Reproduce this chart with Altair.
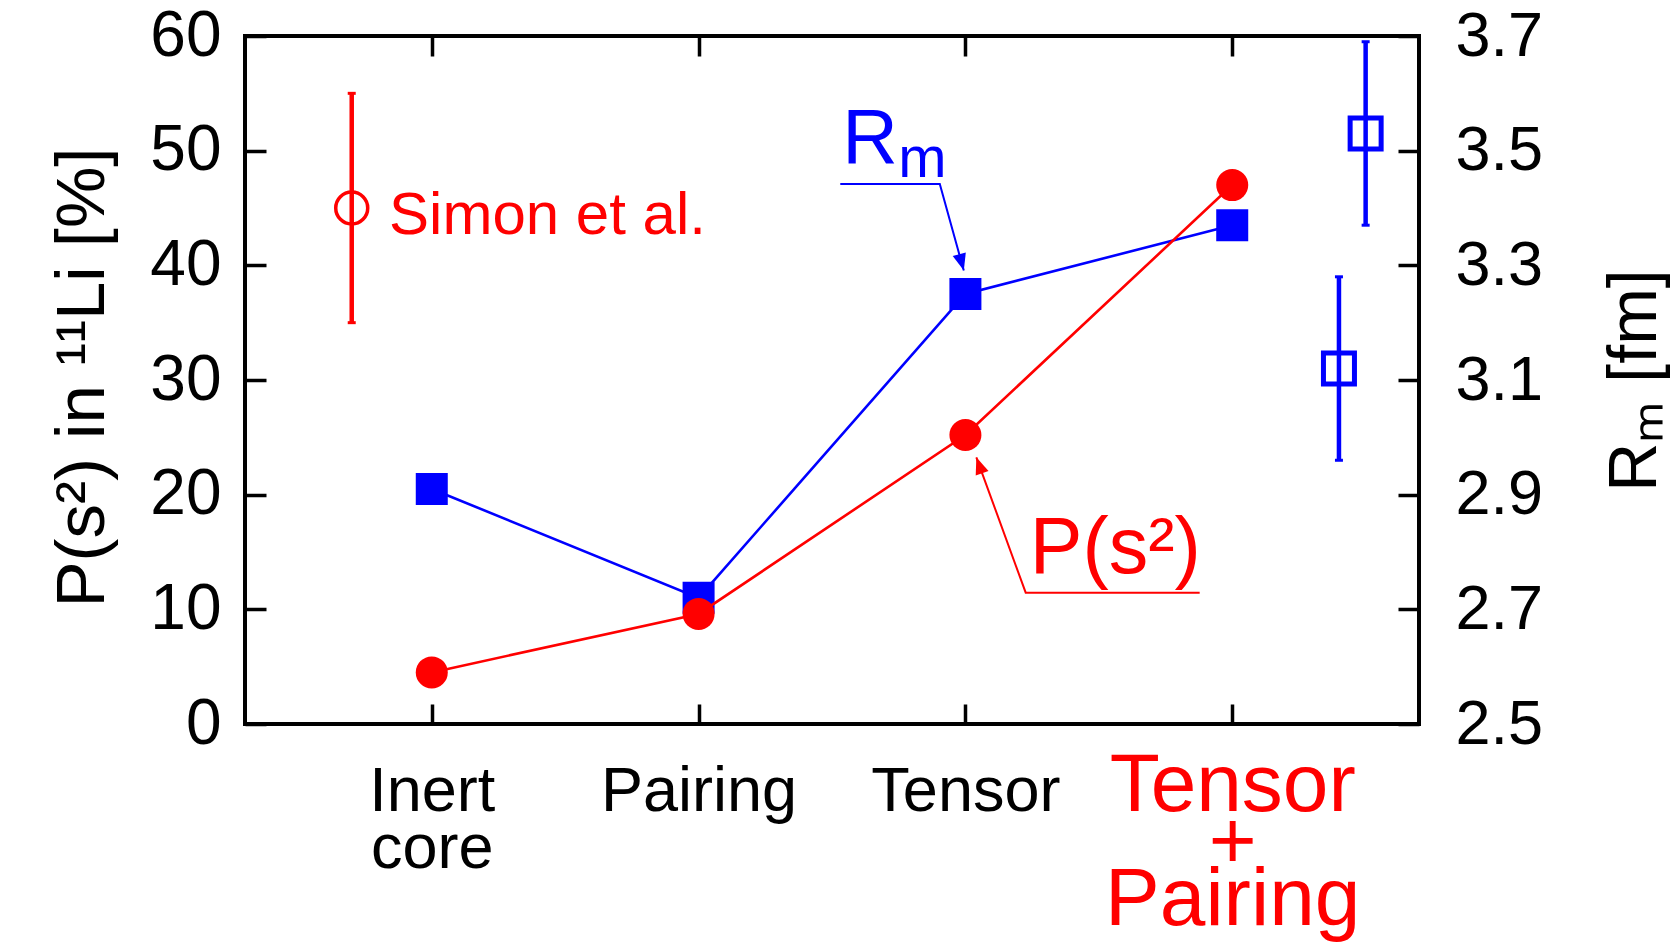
import json
import altair as alt
import pandas as pd

# ---- data -------------------------------------------------------------
categories = [["Inert", "core"], "Pairing", "Tensor", ["Tensor", "+", "Pairing"]]
cat_pos = [1, 2, 3, 4]

p_s2 = [4.5, 9.6, 25.2, 47.0]          # P(s^2) in 11Li [%]
r_m = [2.91, 2.72, 3.25, 3.37]          # matter radius [fm]

# experiment: Simon et al. P(s^2)
simon_x = [0.7]
simon_val = [45.0]
simon_lo = [35.0]
simon_hi = [55.0]

# experiments: matter radius
rm_exp_x = [4.4, 4.5]
rm_exp = [3.12, 3.53]
rm_exp_lo = [2.96, 3.37]
rm_exp_hi = [3.28, 3.69]

# annotation leader lines (x in category units, y in percent)
rm_leader_x = [2.531, 2.904, 2.994]
rm_leader_y = [47.10, 47.10, 39.54]
p_leader_x = [3.878, 3.226, 3.041]
p_leader_y = [11.45, 11.45, 23.26]

# ---- styling ----------------------------------------------------------
RED = "#ff0000"
BLUE = "#0000ff"
FONT = "Liberation Sans"
W, H = 1174, 688
ARROW = "M0,0L-0.8,2L0.8,2Z"

x_scale = alt.Scale(domain=[0.3, 4.7], nice=False, zero=False)
yl_scale = alt.Scale(domain=[0, 60], nice=False, zero=False)
yr_scale = alt.Scale(domain=[2.5, 3.7], nice=False, zero=False)

x_axis = alt.Axis(
    values=cat_pos,
    labelExpr=f"{json.dumps(categories)}[datum.value - 1]",
    labelFont=FONT,
    labelFontSize={"condition": {"test": "datum.value == 4", "value": 82}, "value": 63},
    labelColor={"condition": {"test": "datum.value == 4", "value": RED}, "value": "black"},
    labelLineHeight=57,
    labelBaseline="alphabetic",
    labelPadding=86,
    labelAngle=0,
    labelLimit=0,
    labelOverlap=False,
    labelFlush=False,
    ticks=False,
    tickSize=0,
    domain=False,
    grid=True,
    gridColor="black",
    gridWidth=3.5,
    gridDash=[20, H - 40],
    title=None,
)

yl_axis = alt.Axis(
    orient="left",
    values=[0, 10, 20, 30, 40, 50, 60],
    labelFont=FONT,
    labelFontSize=64,
    labelPadding=24,
    labelColor="black",
    ticks=False,
    tickSize=0,
    domain=False,
    grid=True,
    gridColor="black",
    gridWidth=3.5,
    gridDash=[21, W - 42],
    title="P(s²) in ¹¹Li [%]",
    titleFont=FONT,
    titleFontSize=69,
    titleFontWeight="normal",
    titleColor="black",
    titleAngle=270,
    titleAlign="center",
    titleBaseline="alphabetic",
    titleX=-142,
    titleY=H / 2 - 3,
)

yr_axis = alt.Axis(
    orient="right",
    values=[2.5, 2.7, 2.9, 3.1, 3.3, 3.5, 3.7],
    format=".1f",
    labelFont=FONT,
    labelFontSize=63,
    labelPadding=36,
    labelColor="black",
    ticks=False,
    tickSize=0,
    domain=False,
    grid=False,
    title="Rₘ [fm]",
    titleFont=FONT,
    titleFontSize=68,
    titleFontWeight="normal",
    titleColor="black",
    titleAngle=270,
    titleAlign="center",
    titleBaseline="alphabetic",
    titleX=236,
    titleY=H / 2,
)


def X(field="x"):
    return alt.X(f"{field}:Q", scale=x_scale, axis=x_axis)


def YL(field):
    return alt.Y(f"{field}:Q", scale=yl_scale, axis=yl_axis)


def YR(field):
    return alt.Y(f"{field}:Q", scale=yr_scale, axis=yr_axis)


# ---- tables -----------------------------------------------------------
theory = pd.DataFrame({"x": cat_pos, "p": p_s2, "rm": r_m})
simon = pd.DataFrame({"x": simon_x, "v": simon_val, "lo": simon_lo, "hi": simon_hi})
simon_caps = pd.DataFrame({"x": simon_x * 2, "v": simon_lo + simon_hi})
rm_obs = pd.DataFrame({"x": rm_exp_x, "v": rm_exp, "lo": rm_exp_lo, "hi": rm_exp_hi})
rm_caps = pd.DataFrame({"x": rm_exp_x * 2, "v": rm_exp_lo + rm_exp_hi})
rm_leader = pd.DataFrame({"x": rm_leader_x, "y": rm_leader_y, "i": range(3)})
p_leader = pd.DataFrame({"x": p_leader_x, "y": p_leader_y, "i": range(3)})
rm_tip = rm_leader.tail(1)
p_tip = p_leader.tail(1)

# ---- right-hand scale: matter radius ----------------------------------
rm_line = alt.Chart(theory).mark_line(color=BLUE, strokeWidth=2.6).encode(x=X(), y=YR("rm"))
rm_pts = alt.Chart(theory).mark_point(
    shape="square", filled=True, size=1024, color=BLUE, opacity=1
).encode(x=X(), y=YR("rm"))
rm_bars = alt.Chart(rm_obs).mark_rule(color=BLUE, strokeWidth=4.5).encode(
    x=X(), y=YR("lo"), y2="hi:Q"
)
rm_bar_caps = alt.Chart(rm_caps).mark_tick(
    orient="horizontal", color=BLUE, size=8, thickness=3, opacity=1
).encode(x=X(), y=YR("v"))
rm_open = alt.Chart(rm_obs).mark_point(
    shape="square", filled=False, size=961, color=BLUE, strokeWidth=5, opacity=1
).encode(x=X(), y=YR("v"))

right = alt.layer(rm_line, rm_pts, rm_bars, rm_bar_caps, rm_open)

# ---- left-hand scale: P(s^2) and annotations ---------------------------
p_line = alt.Chart(theory).mark_line(color=RED, strokeWidth=2.6).encode(x=X(), y=YL("p"))
p_pts = alt.Chart(theory).mark_point(
    shape="circle", filled=True, size=1024, color=RED, opacity=1
).encode(x=X(), y=YL("p"))

simon_bar = alt.Chart(simon).mark_rule(color=RED, strokeWidth=4.5).encode(
    x=X(), y=YL("lo"), y2="hi:Q"
)
simon_bar_caps = alt.Chart(simon_caps).mark_tick(
    orient="horizontal", color=RED, size=8, thickness=3, opacity=1
).encode(x=X(), y=YL("v"))
simon_pt = alt.Chart(simon).mark_point(
    shape="circle", filled=False, size=1024, color=RED, strokeWidth=3.5, opacity=1
).encode(x=X(), y=YL("v"))
simon_label = alt.Chart(pd.DataFrame({"x": [0.84], "y": [44.3], "t": ["Simon et al."]})).mark_text(
    align="left", baseline="middle", font=FONT, fontSize=60, color=RED
).encode(x=X(), y=YL("y"), text="t:N")

rm_lead = alt.Chart(rm_leader).mark_line(color=BLUE, strokeWidth=2).encode(
    x=X(), y=YL("y"), order="i:Q"
)
rm_head = alt.Chart(rm_tip).mark_point(
    shape=ARROW, filled=True, size=289, color=BLUE, angle=164.5, opacity=1
).encode(x=X(), y=YL("y"))
rm_text_r = alt.Chart(pd.DataFrame({"x": [2.538], "y": [48.92], "t": ["R"]})).mark_text(
    align="left", baseline="alphabetic", font=FONT, fontSize=77, color=BLUE
).encode(x=X(), y=YL("y"), text="t:N")
rm_text_m = alt.Chart(pd.DataFrame({"x": [2.748], "y": [47.74], "t": ["m"]})).mark_text(
    align="left", baseline="alphabetic", font=FONT, fontSize=58, color=BLUE
).encode(x=X(), y=YL("y"), text="t:N")

p_lead = alt.Chart(p_leader).mark_line(color=RED, strokeWidth=2).encode(
    x=X(), y=YL("y"), order="i:Q"
)
p_head = alt.Chart(p_tip).mark_point(
    shape=ARROW, filled=True, size=289, color=RED, angle=340.2, opacity=1
).encode(x=X(), y=YL("y"))
p_text = alt.Chart(pd.DataFrame({"x": [3.241], "y": [13.14], "t": ["P(s²)"]})).mark_text(
    align="left", baseline="alphabetic", font=FONT, fontSize=79, color=RED
).encode(x=X(), y=YL("y"), text="t:N")

left = alt.layer(
    simon_bar, simon_bar_caps, simon_pt, simon_label,
    rm_lead, rm_head, rm_text_r, rm_text_m,
    p_lead, p_head, p_text,
    p_line, p_pts,
)

chart = (
    alt.layer(right, left)
    .resolve_scale(y="independent")
    .properties(
        width=W,
        height=H,
        autosize=alt.AutoSizeParams(type="none"),
        padding={"left": 245, "top": 36, "right": 255, "bottom": 225},
        background="white",
    )
    .configure(font=FONT)
    .configure_view(stroke="black", strokeWidth=4)
)

chart.save("out.html", embed_options={"renderer": "svg", "actions": False})
